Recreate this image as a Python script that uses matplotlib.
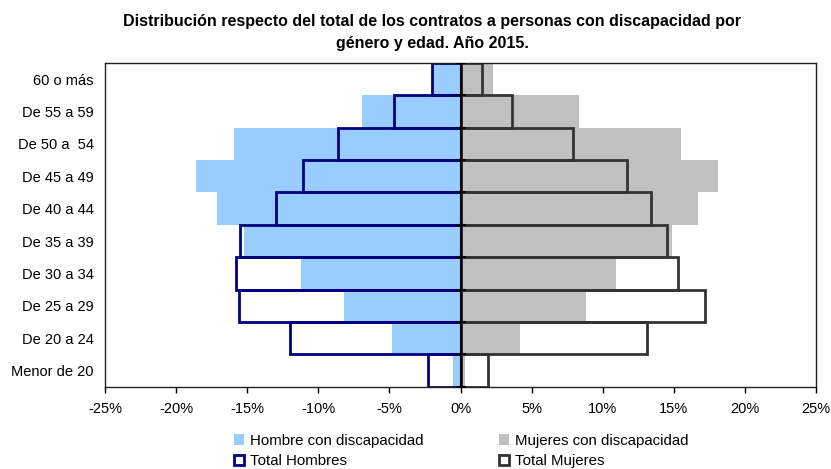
import matplotlib.pyplot as plt
import numpy as np
from matplotlib.patches import Patch
from matplotlib.ticker import FuncFormatter

plt.rcParams['font.family'] = ['Liberation Sans', 'DejaVu Sans']

# bottom to top
grupos = ['Menor de 20', 'De 20 a 24', 'De 25 a 29', 'De 30 a 34', 'De 35 a 39',
          'De 40 a 44', 'De 45 a 49', 'De 50 a  54', 'De 55 a 59', '60 o más']
hombre_disc = [-0.5, -4.8, -8.2, -11.2, -15.2, -17.1, -18.6, -15.9, -6.9, -2.0]
total_hombres = [-2.3, -12.0, -15.6, -15.8, -15.5, -13.0, -11.1, -8.6, -4.7, -2.0]
mujer_disc = [0.3, 4.2, 8.8, 10.9, 14.9, 16.7, 18.1, 15.5, 8.3, 2.3]
total_mujeres = [1.9, 13.1, 17.2, 15.3, 14.5, 13.4, 11.7, 7.9, 3.6, 1.5]

azul = '#99CCFF'
gris = '#C0C0C0'
navy = '#000080'
oscuro = '#333333'

y = np.arange(len(grupos))

fig = plt.figure(figsize=(8.31, 4.69), dpi=100)
ax = fig.add_axes([0.1264, 0.1755, 0.8556, 0.6902])

ax.barh(y, hombre_disc, height=1.0, color=azul, zorder=1)
ax.barh(y, mujer_disc, height=1.0, color=gris, zorder=1)
ax.barh(y, total_hombres, height=1.0, fill=False, edgecolor=navy, linewidth=2.0, zorder=2)
ax.barh(y, total_mujeres, height=1.0, fill=False, edgecolor=oscuro, linewidth=2.0, zorder=2)

# eje vertical en el cero con sus marcas
ax.axvline(0, color='black', linewidth=1.5, zorder=3)
ax.plot(np.zeros(len(grupos) + 1), np.arange(len(grupos) + 1) - 0.5, linestyle='none',
        marker='_', markersize=7, markeredgewidth=1.5, color='black', zorder=3)

ax.set_xlim(-25, 25)
ax.set_ylim(-0.5, len(grupos) - 0.5)
ax.set_xticks(np.arange(-25, 26, 5))
ax.xaxis.set_major_formatter(FuncFormatter(lambda v, p: f'{v:.0f}%'))
ax.set_yticks(y, grupos)
ax.tick_params(axis='x', direction='out', length=4, width=1, labelsize=10.5, pad=7)
ax.tick_params(axis='y', length=0, labelsize=10.5, pad=8)
for s in ax.spines.values():
    s.set_linewidth(1.0)
    s.set_color('#222222')

fig.text(0.52, 0.97, 'Distribución respecto del total de los contratos a personas con discapacidad por\n'
         'género y edad. Año 2015.', ha='center', va='top', fontsize=11.5,
         fontweight='bold', linespacing=1.55)

handles = [Patch(facecolor=azul, edgecolor='none'),
           Patch(facecolor='white', edgecolor=navy, linewidth=2.0),
           Patch(facecolor=gris, edgecolor='none'),
           Patch(facecolor='white', edgecolor=oscuro, linewidth=2.0)]
labels = ['Hombre con discapacidad', 'Total Hombres', 'Mujeres con discapacidad', 'Total Mujeres']
fig.legend(handles, labels, ncol=2, loc='upper left', bbox_to_anchor=(0.265, 0.104),
           frameon=False, fontsize=10.8, handlelength=0.7, handleheight=0.7,
           handletextpad=0.4, columnspacing=5.0, labelspacing=0.42)

plt.savefig('out.png', dpi=100)
